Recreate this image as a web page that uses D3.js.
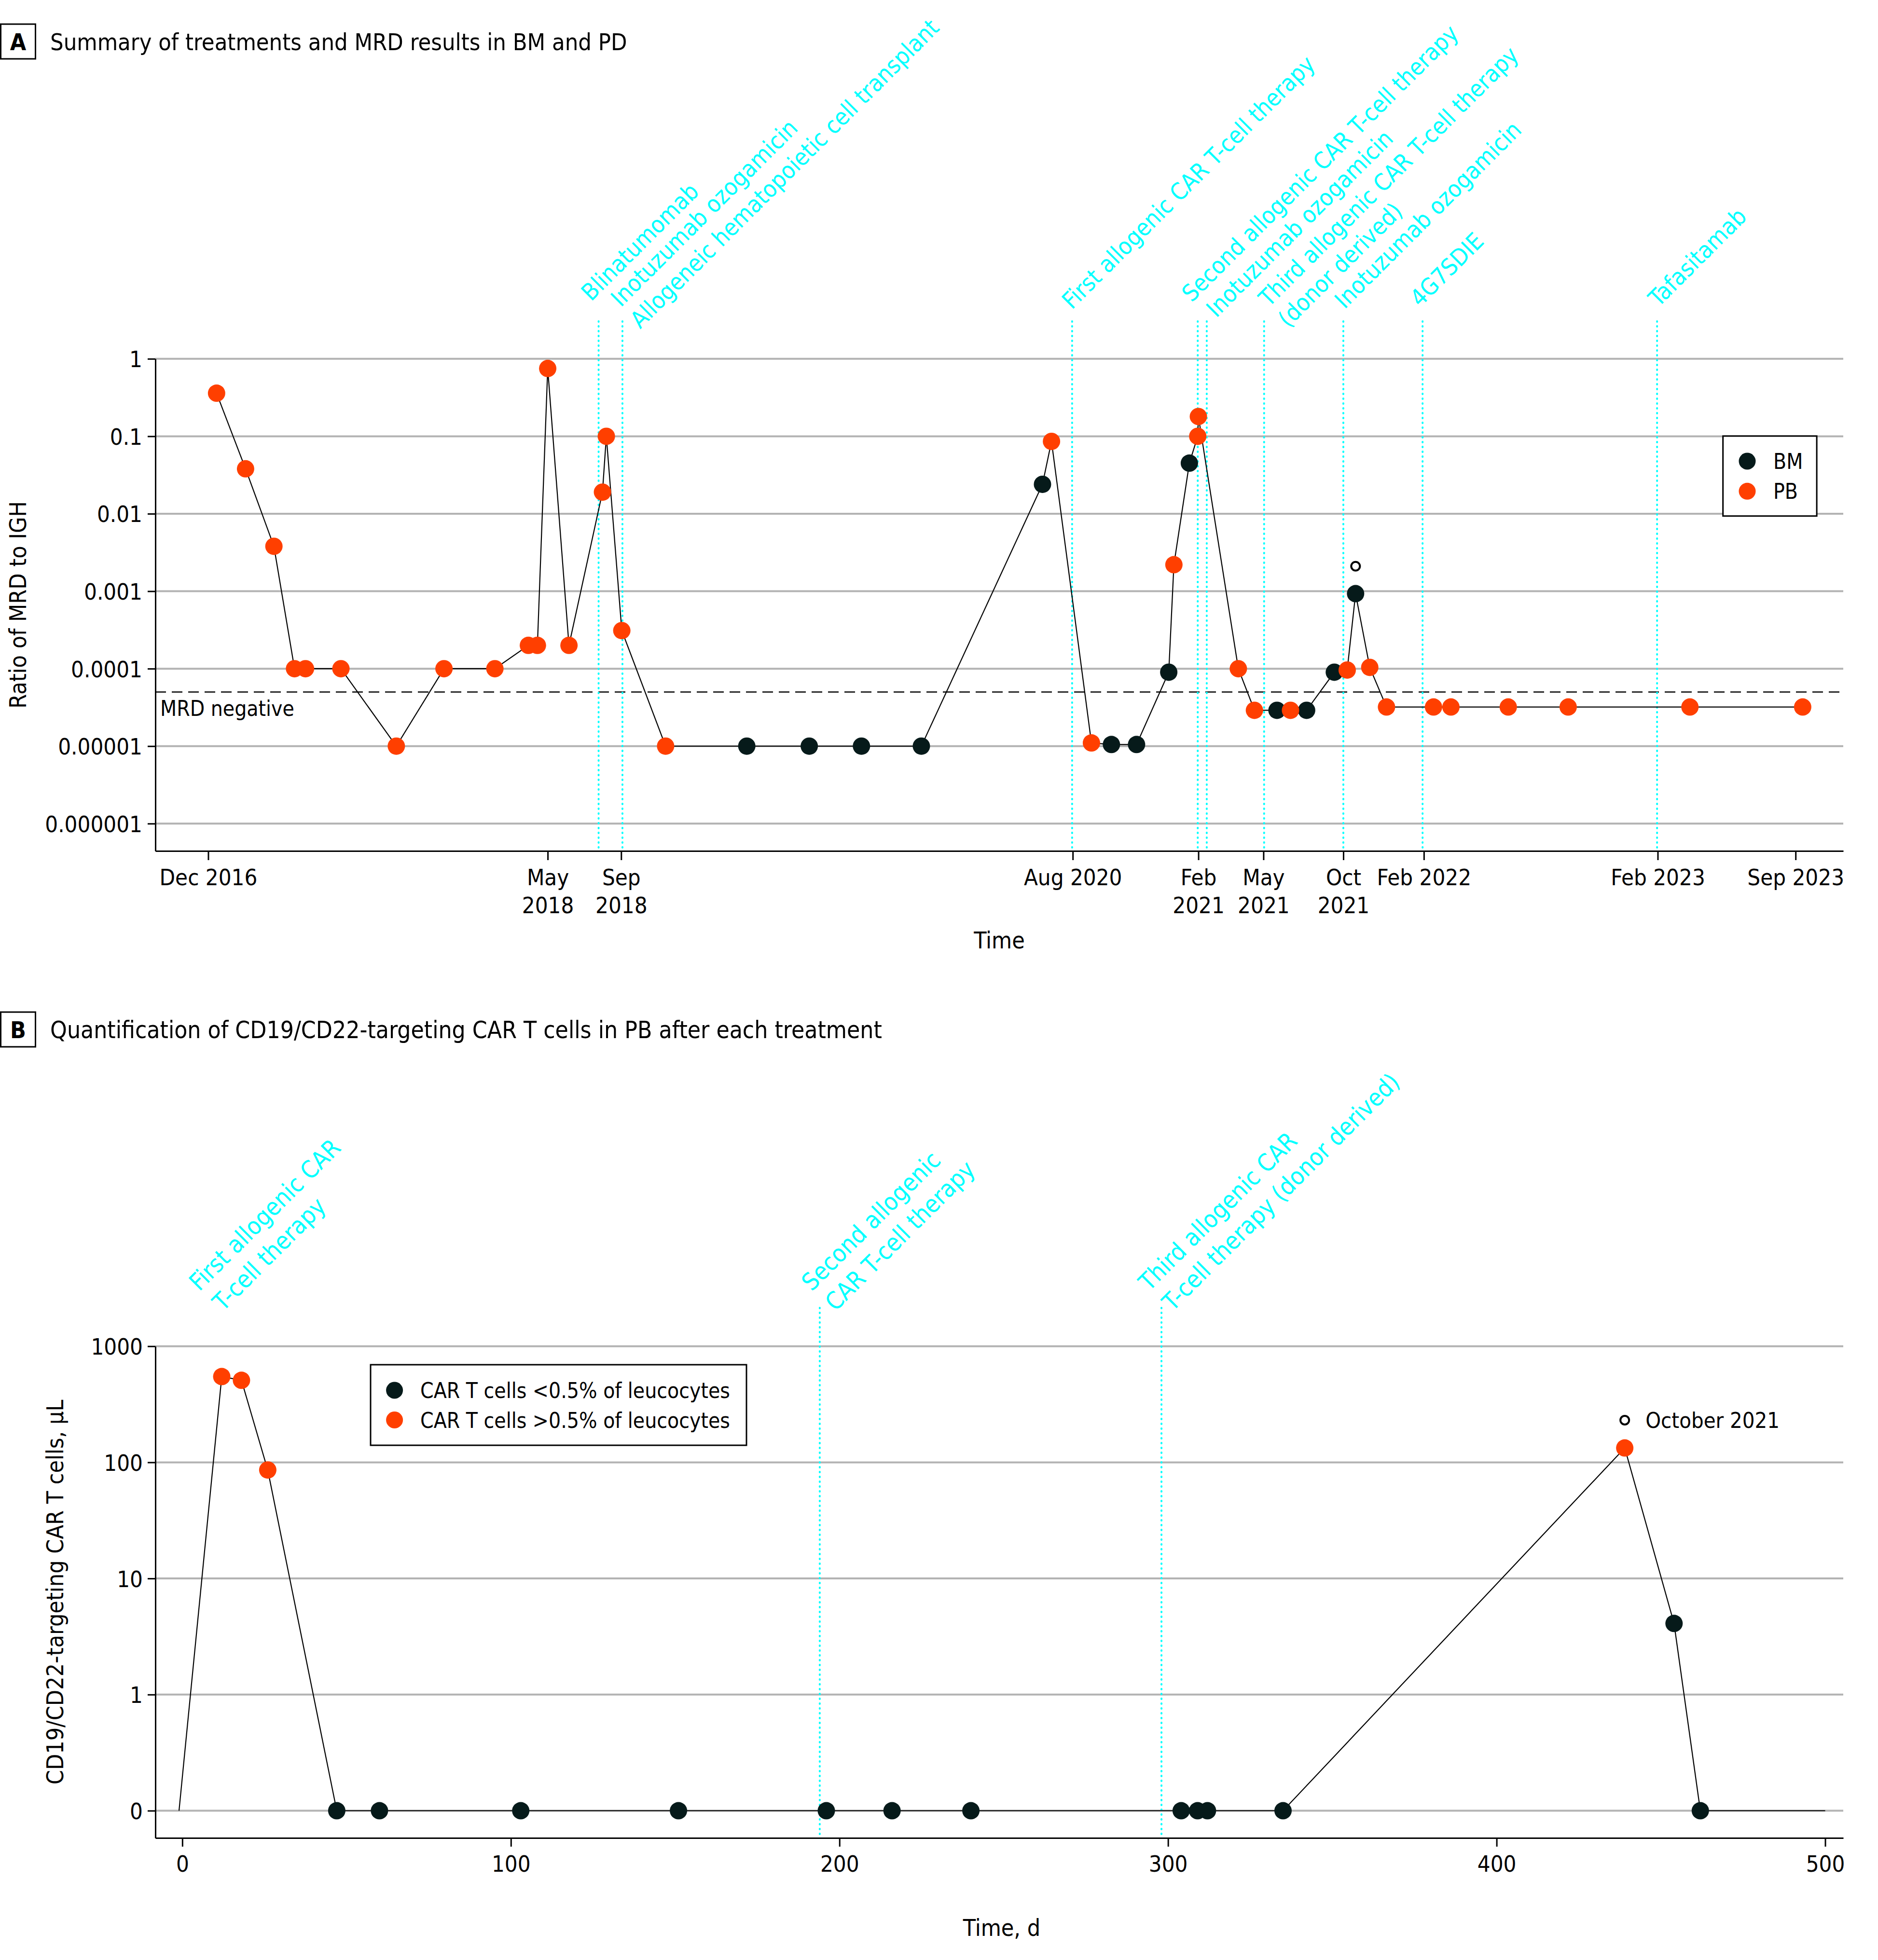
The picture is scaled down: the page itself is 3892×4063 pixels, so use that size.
<!DOCTYPE html>
<html><head><meta charset="utf-8">
<script src="https://cdn.jsdelivr.net/npm/d3@7"></script>
<style>
html,body{margin:0;padding:0;background:#fff;}
svg text{font-family:'DejaVu Sans Condensed','DejaVu Sans',sans-serif;font-stretch:condensed;}
</style></head><body>
<svg id="chart" width="3892" height="4063" xmlns="http://www.w3.org/2000/svg"></svg>
<script>
// ---------------- DATA: Panel A (MRD) ----------------
const mrdDates = ["2016-12-15","2017-01-29","2017-03-14","2017-04-15","2017-05-02","2017-06-26","2017-09-20","2017-12-03","2018-02-20","2018-04-13","2018-04-27","2018-05-13","2018-06-15","2018-08-06","2018-08-12","2018-09-05","2018-11-12","2019-03-18","2019-06-23","2019-09-12","2019-12-14","2020-06-19","2020-07-03","2020-09-03","2020-10-04","2020-11-12","2021-01-01","2021-01-09","2021-02-02","2021-02-15","2021-02-16","2021-04-19","2021-05-14","2021-06-18","2021-07-09","2021-08-03","2021-09-15","2021-10-05","2021-10-18","2021-11-09","2021-12-05","2022-02-16","2022-03-15","2022-06-12","2022-09-13","2023-03-21","2023-09-12"];
const mrdValues = [0.36,0.038,0.0038,0.0001,0.0001,0.0001,0.00001,0.0001,0.0001,0.0002,0.0002,0.75,0.0002,0.019,0.1,0.00031,0.00001,0.00001,0.00001,0.00001,0.00001,0.024,0.086,0.000011,0.0000105,0.0000105,0.00009,0.0022,0.045,0.1,0.18,0.0001,0.000029,0.000029,0.000029,0.000029,0.00009,0.000096,0.00093,0.000104,0.000032,0.000032,0.000032,0.000032,0.000032,0.000032,0.000032];
const mrdSample = ["PB","PB","PB","PB","PB","PB","PB","PB","PB","PB","PB","PB","PB","PB","PB","PB","PB","BM","BM","BM","BM","BM","PB","PB","BM","BM","BM","PB","BM","PB","PB","PB","PB","BM","PB","BM","BM","PB","BM","PB","PB","PB","PB","PB","PB","PB","PB"];
const mrdOpenDate = "2021-10-18";
const mrdOpenValue = 0.0021;
const mrdNegative = 0.00005;
const mrdTicks = [1,0.1,0.01,0.001,0.0001,0.00001,0.000001];
const mrdTickLabels = ["1","0.1","0.01","0.001","0.0001","0.00001","0.000001"];
const timeTickDates = ["2016-12-02","2018-05-13","2018-09-04","2020-08-05","2021-02-16","2021-05-28","2021-09-29","2022-02-01","2023-01-30","2023-09-01"];
const timeTickLabels = ["Dec 2016","May|2018","Sep|2018","Aug 2020","Feb|2021","May|2021","Oct|2021","Feb 2022","Feb 2023","Sep 2023"];
const treatmentDates = ["2018-07-31","2018-09-06","2020-08-04","2021-02-15","2021-03-01","2021-05-29","2021-09-29","2022-01-30","2023-01-29"];
const treatmentLabelText = ["Blinatumomab","Inotuzumab ozogamicin","Allogeneic hematopoietic cell transplant","First allogenic CAR T-cell therapy","Second allogenic CAR T-cell therapy","Inotuzumab ozogamicin","Third allogenic CAR T-cell therapy","(donor derived)","Inotuzumab ozogamicin","4G7SDIE","Tafasitamab"];
const treatmentLabelLine = [0,1,1,2,3,4,5,5,6,7,8];
const sampleTypes = ["BM","PB"];

// ---------------- DATA: Panel B (CAR T cells) ----------------
const carDays   = [-1,12,18,26,47,60,103,151,196,216,240,304,309,312,335,439,454,462,500];
const carValues = [0,548,509,86,0,0,0,0,0,0,0,0,0,0,0,133,4.1,0,0];
const carGroup  = ["none","high","high","high","low","low","low","low","low","low","low","low","low","low","low","high","low","low","none"];
const carOpenDay = 439, carOpenValue = 231, carOpenLabel = "October 2021";
const carTicks = [0.1,1,10,100,1000];
const carTickLabels = ["0","1","10","100","1000"];
const dayTicks = [0,100,200,300,400,500];
const carInfusionDays = [194,298];
const carLabelLines = [["First allogenic CAR","T-cell therapy"],["Second allogenic","CAR T-cell therapy"],["Third allogenic CAR","T-cell therapy (donor derived)"]];
const carLegendText = ["CAR T cells <0.5% of leucocytes","CAR T cells >0.5% of leucocytes"];

// ---------------- LAYOUT / STYLE ----------------
const COL = {PB:"#FF3F00", BM:"#061A1A", high:"#FF3F00", low:"#061A1A", cyan:"#00FFFF", grid:"#B3B3B3"};
const R = 18;
// label anchor offsets (px) relative to treatment line, and baseline y
const labelOffA = [[-15,626],[-3,638],[37,683],[0,643],[-12,628],[20,660],[10,638],[50,681],[3,642],[-5,638],[3,638]];
const carLabelAnchorDay = [12.4,198.8,301.4];

const parse = d3.utcParse("%Y-%m-%d");
const svg = d3.select("#chart");
svg.append("rect").attr("width",3892).attr("height",4063).attr("fill","#fff");

function styleAxis(g, fs){
  g.attr("font-size",fs);
  g.select(".domain").attr("stroke","#000").attr("stroke-width",3);
  g.selectAll(".tick line").attr("stroke","#000").attr("stroke-width",3);
  g.selectAll(".tick text").attr("fill","#000");
}
function panelTitle(letter, txt, y0, fs){
  svg.append("rect").attr("x",1.5).attr("y",y0).attr("width",72).attr("height",72)
    .attr("fill","none").attr("stroke","#000").attr("stroke-width",3);
  svg.append("text").attr("x",37.5).attr("y",y0+36+17.5).attr("text-anchor","middle")
    .attr("font-size",48).attr("font-weight","bold").text(letter);
  svg.append("text").attr("x",104).attr("y",y0+36+17.5).attr("font-size",fs).text(txt);
}

// ================= PANEL A =================
panelTitle("A","Summary of treatments and MRD results in BM and PD",50,48.4);
const A = {left:322,right:3820,top:743.8,bottom:1764,lineTop:666};
const xA = d3.scaleUtc().domain([parse("2016-09-11"),parse("2023-11-14")]).range([A.left,A.right]);
const yA = d3.scaleLog().domain([Math.pow(10,-6.353),1]).range([A.bottom,A.top]);

svg.append("g").selectAll("line").data(mrdTicks).join("line")
  .attr("x1",A.left).attr("x2",A.right).attr("y1",d=>yA(d)).attr("y2",d=>yA(d))
  .attr("stroke",COL.grid).attr("stroke-width",4);
svg.append("line").attr("x1",A.left).attr("x2",A.right).attr("y1",yA(mrdNegative)).attr("y2",yA(mrdNegative))
  .attr("stroke","#000").attr("stroke-width",2.5).attr("stroke-dasharray","22,12");
svg.append("text").attr("x",A.left+10).attr("y",yA(mrdNegative)+50).attr("font-size",44).text("MRD negative");

svg.append("g").selectAll("line").data(treatmentDates).join("line")
  .attr("x1",d=>xA(parse(d))).attr("x2",d=>xA(parse(d))).attr("y1",A.lineTop).attr("y2",A.bottom)
  .attr("stroke",COL.cyan).attr("stroke-width",4).attr("stroke-linecap","round").attr("stroke-dasharray","1,9");

const mrd = mrdDates.map((d,i)=>({date:parse(d),value:mrdValues[i],type:mrdSample[i]}));
svg.append("path").datum(mrd).attr("fill","none").attr("stroke","#000").attr("stroke-width",2.2)
  .attr("d",d3.line().x(d=>xA(d.date)).y(d=>yA(d.value)));
svg.append("g").selectAll("circle").data(mrd.filter(d=>d.type==="BM").concat(mrd.filter(d=>d.type==="PB"))).join("circle")
  .attr("cx",d=>xA(d.date)).attr("cy",d=>yA(d.value)).attr("r",R).attr("fill",d=>COL[d.type]);
svg.append("circle").attr("cx",xA(parse(mrdOpenDate))).attr("cy",yA(mrdOpenValue)).attr("r",9)
  .attr("fill","#fff").attr("stroke","#000").attr("stroke-width",4);

const gyA = svg.append("g").attr("transform",`translate(${A.left},0)`)
  .call(d3.axisLeft(yA).tickValues(mrdTicks).tickFormat((d,i)=>mrdTickLabels[i]).tickSize(16).tickPadding(11).tickSizeOuter(0));
styleAxis(gyA,47); gyA.selectAll(".tick text").attr("dy","0.36em");
const gxA = svg.append("g").attr("transform",`translate(0,${A.bottom})`)
  .call(d3.axisBottom(xA).tickValues(timeTickDates.map(parse)).tickSize(19).tickSizeOuter(0).tickFormat(""));
styleAxis(gxA,47);
gxA.selectAll(".tick").each(function(d,i){
  const t = d3.select(this).select("text").attr("y",null).attr("dy",null).text(null);
  timeTickLabels[i].split("|").forEach((s,k)=>t.append("tspan").attr("x",0).attr("y",70.6+k*58).text(s));
});
svg.append("text").attr("x",(A.left+A.right)/2).attr("y",1966).attr("text-anchor","middle").attr("font-size",48).text("Time");
svg.append("text").attr("transform",`translate(53.5,${(A.top+A.bottom)/2}) rotate(-90)`).attr("text-anchor","middle")
  .attr("font-size",48).text("Ratio of MRD to IGH");

// legend A
const legA = svg.append("g");
legA.append("rect").attr("x",3570.7).attr("y",903.9).attr("width",194.4).attr("height",165.8)
  .attr("fill","#fff").attr("stroke","#000").attr("stroke-width",3);
sampleTypes.forEach((s,i)=>{
  legA.append("circle").attr("cx",3621).attr("cy",956+i*62.3).attr("r",17.5).attr("fill",COL[s]);
  legA.append("text").attr("x",3675).attr("y",956+i*62.3+16).attr("font-size",44).text(s);
});

// treatment labels A
treatmentLabelText.forEach((txt,i)=>{
  const x = xA(parse(treatmentDates[treatmentLabelLine[i]])) + labelOffA[i][0];
  svg.append("text").attr("transform",`translate(${x},${labelOffA[i][1]}) rotate(-45)`)
    .attr("font-size",48.5).attr("fill",COL.cyan).text(txt);
});

// ================= PANEL B =================
panelTitle("B","Quantification of CD19/CD22-targeting CAR T cells in PB after each treatment",2098,49.3);
const B = {left:322,right:3820,top:2790.7,bottom:3810,lineTop:2711,labelY:2720};
const xB = d3.scaleLinear().domain([-8.2,505.5]).range([B.left,B.right]);
const yB = d3.scaleLog().domain([Math.pow(10,-1.2347),1000]).range([B.bottom,B.top]);
const yv = v => yB(Math.max(v,0.1));

svg.append("g").selectAll("line").data(carTicks).join("line")
  .attr("x1",B.left).attr("x2",B.right).attr("y1",d=>yB(d)).attr("y2",d=>yB(d))
  .attr("stroke",COL.grid).attr("stroke-width",4);
svg.append("g").selectAll("line").data(carInfusionDays).join("line")
  .attr("x1",d=>xB(d)).attr("x2",d=>xB(d)).attr("y1",B.lineTop).attr("y2",B.bottom)
  .attr("stroke",COL.cyan).attr("stroke-width",4).attr("stroke-linecap","round").attr("stroke-dasharray","1,9");

const car = carDays.map((d,i)=>({day:d,value:carValues[i],group:carGroup[i]}));
svg.append("path").datum(car).attr("fill","none").attr("stroke","#000").attr("stroke-width",2.2)
  .attr("d",d3.line().x(d=>xB(d.day)).y(d=>yv(d.value)));
svg.append("g").selectAll("circle").data(car.filter(d=>d.group!=="none")).join("circle")
  .attr("cx",d=>xB(d.day)).attr("cy",d=>yv(d.value)).attr("r",R).attr("fill",d=>COL[d.group]);
svg.append("circle").attr("cx",xB(carOpenDay)).attr("cy",yB(carOpenValue)).attr("r",9)
  .attr("fill","#fff").attr("stroke","#000").attr("stroke-width",4);
svg.append("text").attr("x",xB(carOpenDay)+43).attr("y",yB(carOpenValue)+16).attr("font-size",45).text(carOpenLabel);

const gyB = svg.append("g").attr("transform",`translate(${B.left},0)`)
  .call(d3.axisLeft(yB).tickValues(carTicks).tickFormat((d,i)=>carTickLabels[i]).tickSize(16).tickPadding(10).tickSizeOuter(0));
styleAxis(gyB,47); gyB.selectAll(".tick text").attr("dy","0.36em");
const gxB = svg.append("g").attr("transform",`translate(0,${B.bottom})`)
  .call(d3.axisBottom(xB).tickValues(dayTicks).tickSize(18).tickSizeOuter(0));
styleAxis(gxB,47); gxB.selectAll(".tick text").attr("y",69.6).attr("dy",null);
svg.append("text").attr("x",(B.left+B.right)/2+5).attr("y",4013).attr("text-anchor","middle").attr("font-size",48).text("Time, d");
svg.append("text").attr("transform",`translate(131,${(B.top+B.bottom)/2}) rotate(-90)`).attr("text-anchor","middle")
  .attr("font-size",48).text("CD19/CD22-targeting CAR T cells, µL");

// legend B
const legB = svg.append("g");
legB.append("rect").attr("x",768).attr("y",2829).attr("width",779).attr("height",167)
  .attr("fill","#fff").attr("stroke","#000").attr("stroke-width",3);
["low","high"].forEach((g,i)=>{
  legB.append("circle").attr("cx",817.6).attr("cy",2882+i*61.5).attr("r",17.5).attr("fill",COL[g]);
  legB.append("text").attr("x",871).attr("y",2882+i*61.5+16).attr("font-size",44).text(carLegendText[i]);
});

// treatment labels B
carLabelLines.forEach((lines,i)=>{
  const g = svg.append("g").attr("transform",`translate(${xB(carLabelAnchorDay[i])},${B.labelY}) rotate(-45)`);
  lines.forEach((s,k)=>g.append("text").attr("x",(k-1)*5).attr("y",(k-1)*64).attr("font-size",50).attr("fill",COL.cyan).text(s));
});
</script>
</body></html>
